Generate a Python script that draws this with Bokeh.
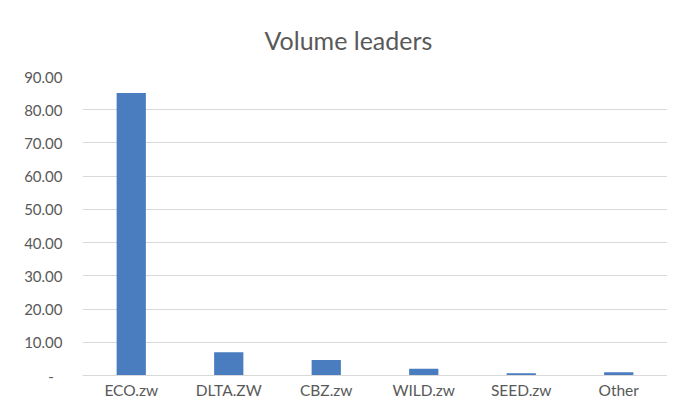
from bokeh.plotting import figure
from bokeh.models import ColumnDataSource, Range1d, FactorRange, NumeralTickFormatter
from bokeh.embed import file_html
from bokeh.resources import INLINE

categories = ["ECO.zw", "DLTA.ZW", "CBZ.zw", "WILD.zw", "SEED.zw", "Other"]
volumes = [85.0, 7.0, 4.7, 2.0, 0.7, 1.0]
y_ticks = [0, 10, 20, 30, 40, 50, 60, 70, 80, 90]
zero_label = "-\u2007"
title_text = "Volume leaders"

FONT = "Lato"
TXT = "#595959"

src = ColumnDataSource(data=dict(cat=categories, vol=volumes))

p = figure(width=667, height=401, output_backend="svg", toolbar_location=None,
           x_range=FactorRange(factors=categories, range_padding=0),
           y_range=Range1d(0, 90), title=title_text,
           min_border_left=82, min_border_right=0, min_border_top=76, min_border_bottom=24)

p.vbar(x="cat", top="vol", width=0.30, source=src, fill_color="#4A7DC0", line_color=None)

p.title.align = "left"
p.title.offset = 182
p.title.text_font = FONT
p.title.text_font_size = "25px"
p.title.text_font_style = "normal"
p.title.text_color = TXT
p.title.standoff = 43

p.outline_line_color = None
p.background_fill_color = "white"
p.border_fill_color = "white"

p.xgrid.grid_line_color = None
p.ygrid.grid_line_color = "#d9d9d9"
p.ygrid.grid_line_width = 1

p.yaxis.ticker = y_ticks
p.yaxis.formatter = NumeralTickFormatter(format="0.00")
p.yaxis.major_label_overrides = {0: zero_label}
p.yaxis.axis_line_color = None
p.yaxis.major_tick_line_color = None
p.yaxis.minor_tick_line_color = None
p.yaxis.major_tick_out = 0
p.yaxis.major_tick_in = 0
p.yaxis.major_label_standoff = 20
p.yaxis.major_label_text_font = FONT
p.yaxis.major_label_text_font_size = "15px"
p.yaxis.major_label_text_color = TXT

p.xaxis.axis_line_color = "#d9d9d9"
p.xaxis.major_tick_line_color = None
p.xaxis.minor_tick_line_color = None
p.xaxis.major_tick_out = 0
p.xaxis.major_tick_in = 0
p.xaxis.major_label_standoff = 5
p.xaxis.major_label_text_font = FONT
p.xaxis.major_label_text_font_size = "15.5px"
p.xaxis.major_label_text_color = TXT

open("out.html", "w").write(file_html(p, INLINE))
